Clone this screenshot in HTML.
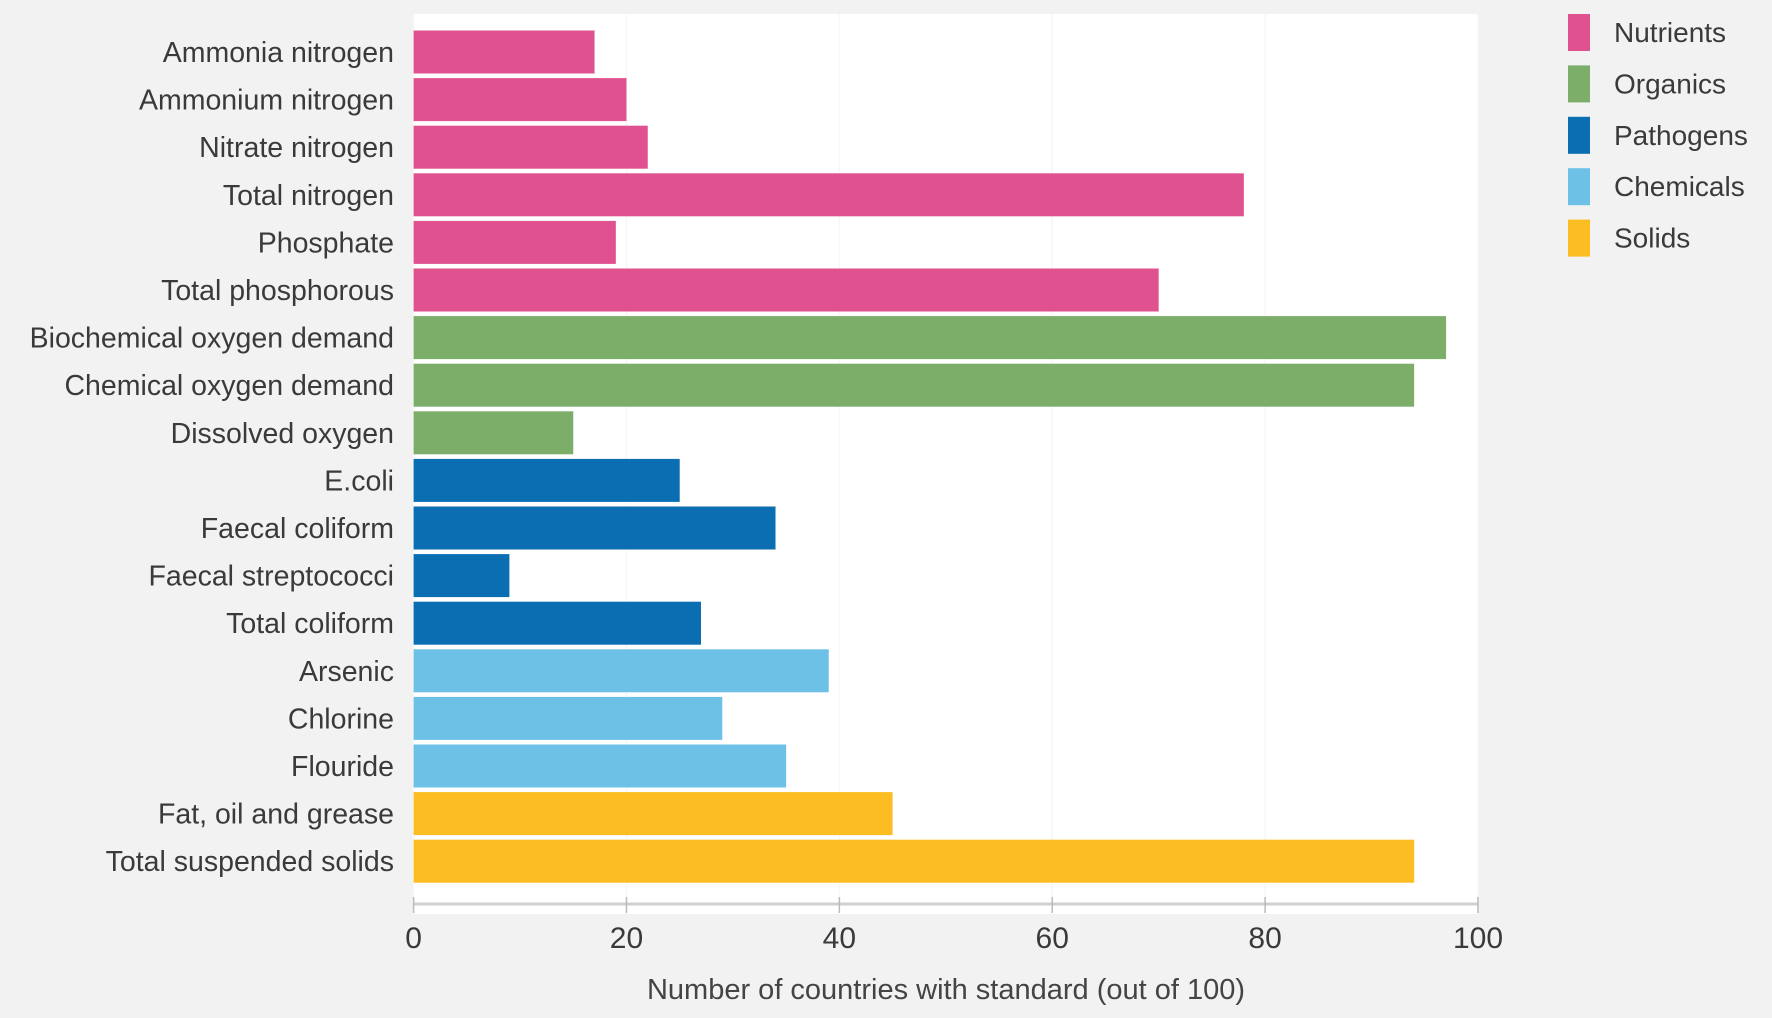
<!DOCTYPE html>
<html><head><meta charset="utf-8"><style>
html,body{margin:0;padding:0;background:#f2f2f2;}
svg{display:block;font-family:"Liberation Sans",sans-serif;}
</style></head><body>
<svg id="chart" width="1772" height="1018" viewBox="0 0 1772 1018">
<rect x="0" y="0" width="1772" height="1018" fill="#f2f2f2"/>
<rect x="413" y="14" width="1065" height="900" fill="#ffffff"/>
<g id="grid"></g><g id="bars"></g><g id="labels"></g><g id="axis"></g><g id="legend"></g>
<text x="946" y="999" text-anchor="middle" font-size="29" fill="#444">Number of countries with standard (out of 100)</text>
</svg>
<script>
const categories=["Ammonia nitrogen","Ammonium nitrogen","Nitrate nitrogen","Total nitrogen","Phosphate","Total phosphorous","Biochemical oxygen demand","Chemical oxygen demand","Dissolved oxygen","E.coli","Faecal coliform","Faecal streptococci","Total coliform","Arsenic","Chlorine","Flouride","Fat, oil and grease","Total suspended solids"];
const values=[17,20,22,78,19,70,97,94,15,25,34,9,27,39,29,35,45,94];
const groups=["Nutrients","Nutrients","Nutrients","Nutrients","Nutrients","Nutrients","Organics","Organics","Organics","Pathogens","Pathogens","Pathogens","Pathogens","Chemicals","Chemicals","Chemicals","Solids","Solids"];
const legendNames=["Nutrients","Organics","Pathogens","Chemicals","Solids"];
const legendColors=["#e0528f","#7cad69","#0b6db2","#6ec1e6","#fbbd22"];
const xTicks=[0,20,40,60,80,100];
const NS="http://www.w3.org/2000/svg";
const x0=413.6,x1=1478,y0=52,step=47.6,bh=43;
const xs=v=>x0+(x1-x0)*v/100;
const ys=i=>y0+i*step;
function mk(t,a,p){const e=document.createElementNS(NS,t);for(const k in a)e.setAttribute(k,a[k]);p.appendChild(e);return e;}
const grid=document.getElementById('grid'),bars=document.getElementById('bars'),labels=document.getElementById('labels'),axis=document.getElementById('axis'),legend=document.getElementById('legend');
xTicks.forEach(t=>{
 const g=mk('line',{x1:xs(t),x2:xs(t),y1:14,y2:904,stroke:'#f7f7f7','stroke-width':1.5},grid);
 
 
});
categories.forEach((c,i)=>{
 const col=legendColors[legendNames.indexOf(groups[i])];
 const r=mk('rect',{x:x0,y:ys(i)-bh/2,width:xs(values[i])-x0,height:bh,fill:col},bars);
 
 
 const t=mk('text',{x:394,y:ys(i)+10,'text-anchor':'end','font-size':28.5,fill:'#3a3a3a'},labels);
 t.textContent=c;
 
 
});
const al=mk('line',{x1:x0,x2:x1,y1:904,y2:904,stroke:'#d0d0d0','stroke-width':3},axis);


xTicks.forEach(t=>{
 const tk=mk('line',{x1:xs(t),x2:xs(t),y1:897,y2:913,stroke:'#bbb','stroke-width':1.5},axis);
 
 
 const tl=mk('text',{x:xs(t),y:948,'text-anchor':'middle','font-size':30,fill:'#3a3a3a'},axis);
 tl.textContent=t;
 
 
});
legendNames.forEach((n,i)=>{
 const y=14+i*51.4;
 const s=mk('rect',{x:1568,y:y,width:22,height:37,fill:legendColors[i]},legend);
 
 
 const t=mk('text',{x:1614,y:y+28,'font-size':28,fill:'#3a3a3a'},legend);
 t.textContent=n;
 
 
});
</script>
</body></html>
